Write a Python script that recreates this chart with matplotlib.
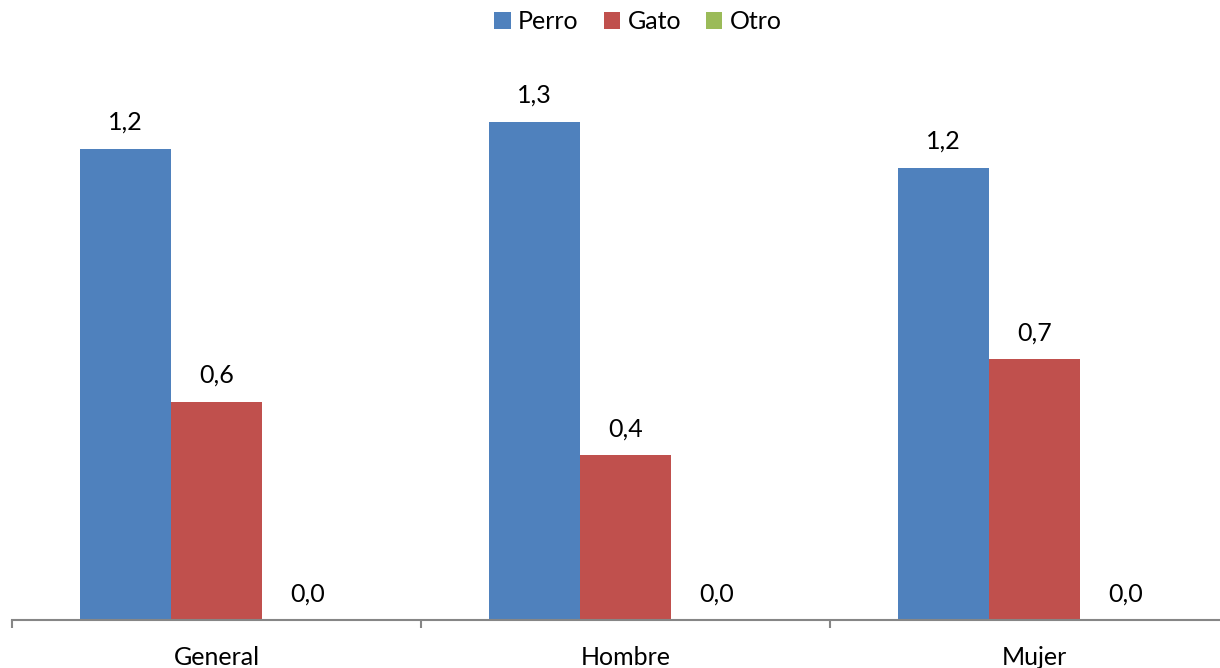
import matplotlib.pyplot as plt
import numpy as np

# data
categories = ["General", "Hombre", "Mujer"]
series = ["Perro", "Gato", "Otro"]
perro = [1.23, 1.30, 1.18]
gato = [0.57, 0.43, 0.68]
otro = [0.0, 0.0, 0.0]
colors = ["#4F81BD", "#C0504D", "#9BBB59"]

plt.rcParams['font.family'] = ['Lato', 'DejaVu Sans']

fig = plt.figure(figsize=(12.2, 6.68), dpi=100)
# axis spans past the right edge like the original
ax = fig.add_axes([12/1220, 48/668, 1227/1220, 575/668])

x = np.arange(len(categories))
w = 0.2225
for i, (vals, name) in enumerate(zip([perro, gato, otro], series)):
    bars = ax.bar(x + (i - 1) * w, vals, w, color=colors[i], label=name)
    for b, v in zip(bars, vals):
        ax.annotate(f"{v:.1f}".replace(".", ","),
                    (b.get_x() + b.get_width() / 2, v),
                    xytext=(0, 19), textcoords="offset points",
                    ha="center", va="center", fontsize=18)

ax.set_xlim(-0.5, 2.5)
ax.set_ylim(0, 1.5)
for s in ["top", "right", "left"]:
    ax.spines[s].set_visible(False)
ax.spines["bottom"].set_color("#868686")
ax.spines["bottom"].set_linewidth(1.5)
ax.set_yticks([])

ax.set_xticks(x)
ax.set_xticklabels(categories, fontsize=18)
ax.tick_params(axis="x", which="major", length=0, pad=19)
ax.set_xticks([-0.5, 0.5, 1.5, 2.5], minor=True)
ax.tick_params(axis="x", which="minor", length=6, width=1.5, color="#868686")

fig.legend(loc="upper center", ncol=3, frameon=False, fontsize=18,
           bbox_to_anchor=(0.523, 1.018), handlelength=0.65, handleheight=0.65,
           handletextpad=0.3, columnspacing=1.0)

fig.savefig("out.png", dpi=100)
